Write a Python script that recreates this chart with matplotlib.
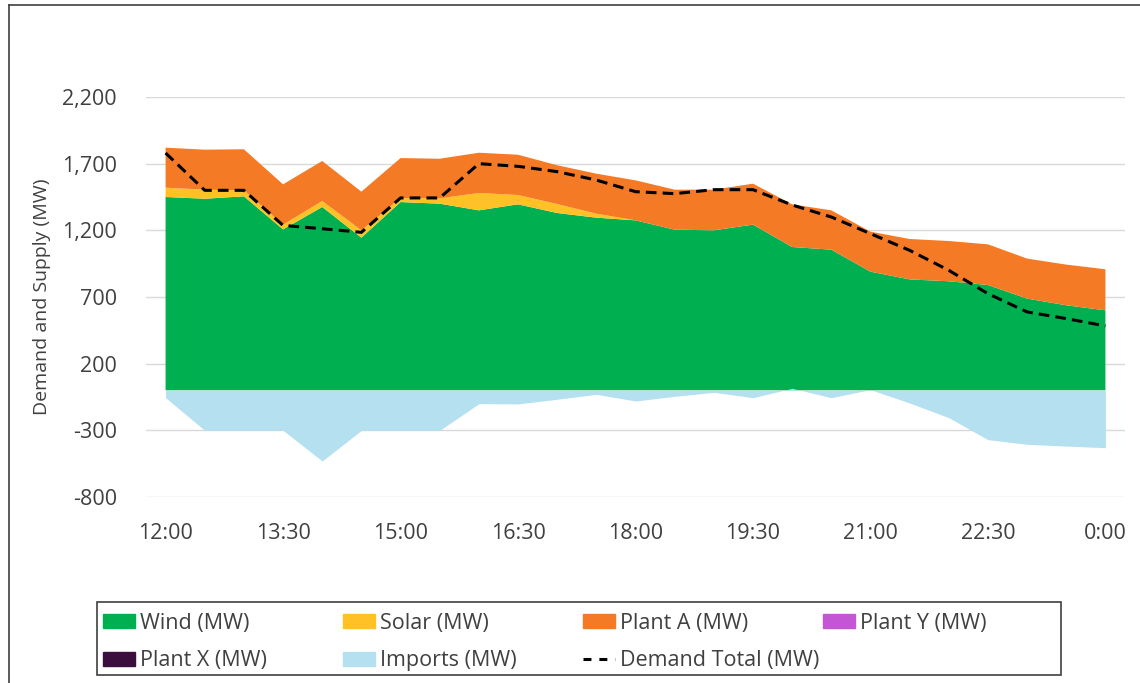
import numpy as np
import matplotlib.pyplot as plt
from matplotlib.lines import Line2D
from matplotlib.patches import Patch, Rectangle

plt.rcParams['font.family'] = ['Open Sans', 'DejaVu Sans']

times = ['12:00', '12:30', '13:00', '13:30', '14:00', '14:30', '15:00', '15:30',
         '16:00', '16:30', '17:00', '17:30', '18:00', '18:30', '19:00', '19:30',
         '20:00', '20:30', '21:00', '21:30', '22:00', '22:30', '23:00', '23:30', '0:00']

wind = [1450, 1437, 1455, 1207, 1375, 1145, 1412, 1400, 1350, 1395, 1330, 1295, 1275,
        1205, 1200, 1243, 1075, 1055, 890, 832, 818, 790, 688, 638, 600]
solar = [70, 68, 45, 35, 45, 55, 30, 40, 130, 70, 67, 30, 0,
         0, 0, 0, 0, 0, 0, 0, 0, 0, 0, 0, 0]
plant_a = [300, 300, 308, 303, 300, 290, 300, 297, 302, 302, 291, 300, 300,
           300, 305, 307, 320, 295, 300, 303, 302, 305, 300, 305, 308]
plant_y = [0] * 25
plant_x = [0] * 25
imports = [-55, -300, -300, -300, -530, -300, -300, -300, -100, -102, -67, -30, -80,
           -45, -15, -55, 15, -55, 5, -95, -205, -370, -405, -418, -430]
demand = [1780, 1500, 1500, 1237, 1212, 1185, 1443, 1443, 1700, 1680, 1640, 1577, 1490,
          1475, 1505, 1505, 1390, 1300, 1175, 1050, 900, 725, 588, 538, 483]

c_wind = '#00B050'
c_solar = '#FFC125'
c_plant_a = '#F47A26'
c_plant_y = '#C455D4'
c_plant_x = '#3A0F3E'
c_imports = '#B4E0EF'
txt = '#404040'

W, H = 1140, 683
fig = plt.figure(figsize=(W / 100, H / 100), dpi=100)
ax = fig.add_axes([146 / W, 1 - 497 / H, (1125 - 146) / W, 400 / H])

x = np.arange(len(times))
ax.stackplot(x, wind, solar, plant_a, plant_y, plant_x,
             colors=[c_wind, c_solar, c_plant_a, c_plant_y, c_plant_x], linewidth=0)
ax.fill_between(x, 0, imports, color=c_imports, linewidth=0)
ax.plot(x, demand, color='black', lw=2.2, dashes=(3.5, 2))

ax.set_xlim(-0.5, len(times) - 0.5)
ax.set_ylim(-800, 2200)
ax.set_yticks(range(-800, 2201, 500))
ax.yaxis.set_major_formatter(lambda v, p: f'{v:,.0f}')
ax.set_xticks(x[::3])
ax.set_xticklabels(times[::3])
ax.grid(axis='y', color='#d9d9d9', lw=1)
ax.set_axisbelow(True)
for s in ax.spines.values():
    s.set_visible(False)
ax.tick_params(axis='both', length=0, labelsize=15.5, colors=txt)
ax.tick_params(axis='y', pad=21)
ax.tick_params(axis='x', pad=18.5)
ax.set_ylabel('Demand and Supply (MW)', fontsize=14, color=txt, labelpad=8)

# chart border (cropped on right / bottom)
fig.add_artist(Line2D([8.5 / W, 8.5 / W], [0, 1 - 4.5 / H], color=txt, lw=1.2))
fig.add_artist(Line2D([8.5 / W, 1], [1 - 4.5 / H, 1 - 4.5 / H], color=txt, lw=1.2))

# legend frame
fig.add_artist(Rectangle((97 / W, 1 - 675 / H), (1061 - 97) / W, 73 / H,
                         fill=False, edgecolor=txt, lw=1.2))

cols = [
    [(Patch(color=c_wind), 'Wind (MW)'), (Patch(color=c_plant_x), 'Plant X (MW)')],
    [(Patch(color=c_solar), 'Solar (MW)'), (Patch(color=c_imports), 'Imports (MW)')],
    [(Patch(color=c_plant_a), 'Plant A (MW)'),
     (Line2D([], [], color='black', lw=2.2, dashes=(2.6, 2.6)), 'Demand Total (MW)')],
    [(Patch(color=c_plant_y), 'Plant Y (MW)')],
]
for i, col in enumerate(cols):
    fig.legend([h for h, _ in col], [l for _, l in col], loc='upper left',
               bbox_to_anchor=((103 + 240 * i) / W, 1 - 613 / H),
               frameon=False, fontsize=15.5, labelcolor=txt, borderpad=0,
               borderaxespad=0, handlelength=1.5, handleheight=0.62,
               handletextpad=0.2, labelspacing=0.75)

fig.savefig('out.png', dpi=100)
